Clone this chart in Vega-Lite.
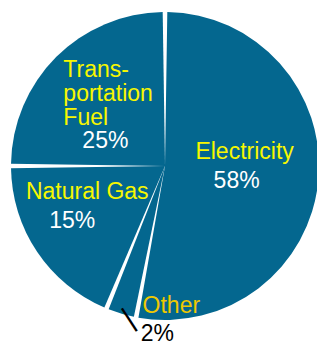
{
  "$schema": "https://vega.github.io/schema/vega-lite/v6.json",
  "width": 304,
  "height": 332,
  "autosize": {"type": "none"},
  "padding": {"left": 13, "top": 0, "right": 0, "bottom": 14},
  "background": "white",
  "config": {"view": {"stroke": null}, "text": {"font": "Liberation Sans"}},
  "data": {
    "values": [
      {"cat": "Electricity", "ord": 1, "value": 53, "name": "Electricity", "pct": "58%"},
      {"cat": "Other", "ord": 2, "value": 3.2, "name": "Other", "pct": "2%"},
      {"cat": "Natural Gas", "ord": 3, "value": 18.8, "name": "Natural Gas", "pct": "15%"},
      {"cat": "Transportation Fuel", "ord": 4, "value": 25, "name": "Trans-\nportation\nFuel", "pct": "25%"}
    ]
  },
  "encoding": {
    "theta": {"field": "value", "type": "quantitative", "stack": true},
    "order": {"field": "ord", "type": "quantitative"}
  },
  "layer": [
    {
      "mark": {"type": "arc", "radius": 154, "padAngle": 0.03, "fill": "#04678F"}
    },
    {
      "mark": {
        "type": "text",
        "radius": 90,
        "fontSize": 23,
        "lineHeight": 24,
        "lineBreak": "\n",
        "baseline": "middle",
        "align": {"expr": "datum.cat === 'Transportation Fuel' ? 'left' : 'center'"},
        "fill": {"expr": "datum.cat === 'Other' ? '#F0C800' : '#F7F700'"},
        "dx": {"expr": "datum.cat === 'Electricity' ? -10 : datum.cat === 'Other' ? 32 : datum.cat === 'Natural Gas' ? -3 : -38"},
        "dy": {"expr": "datum.cat === 'Electricity' ? -22 : datum.cat === 'Other' ? 54 : datum.cat === 'Natural Gas' ? -24 : -32"}
      },
      "encoding": {"text": {"field": "name", "type": "nominal"}}
    },
    {
      "mark": {
        "type": "text",
        "radius": 90,
        "fontSize": 23,
        "baseline": "middle",
        "align": "center",
        "fill": {"expr": "datum.cat === 'Other' ? '#000000' : '#FFFFFF'"},
        "dx": {"expr": "datum.cat === 'Electricity' ? -18 : datum.cat === 'Other' ? 18 : datum.cat === 'Natural Gas' ? -18 : 4"},
        "dy": {"expr": "datum.cat === 'Electricity' ? 7 : datum.cat === 'Other' ? 82 : datum.cat === 'Natural Gas' ? 5 : 39"}
      },
      "encoding": {"text": {"field": "pct", "type": "nominal"}}
    },
    {
      "mark": {
        "type": "text",
        "radius": 158,
        "fontSize": 29,
        "baseline": "middle",
        "align": "center",
        "angle": -33,
        "fill": "#000000",
        "text": {"expr": "datum.cat === 'Other' ? '|' : ''"},
        "dx": 6.5,
        "dy": 5.5
      }
    }
  ]
}
